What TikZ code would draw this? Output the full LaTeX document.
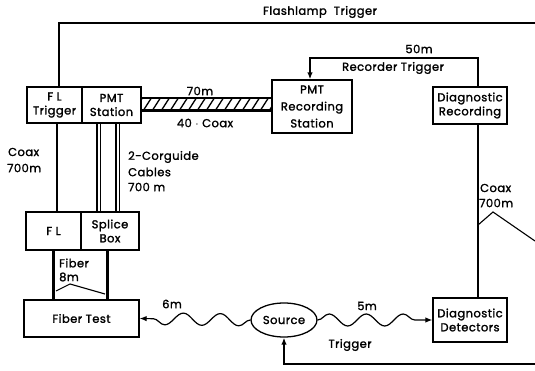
\documentclass[tikz,border=0pt]{standalone}
\usepackage{fontspec}
\setmainfont{Poppins}[LetterSpace=4,FakeBold=1.6]
\usetikzlibrary{arrows.meta,calc,decorations.pathmorphing,shapes.geometric}
\begin{document}
\begin{tikzpicture}[x=1pt,y=-1pt,
  every node/.style={font=\fontsize{11.5}{14}\selectfont},
  box/.style={draw,line width=1.3pt,inner sep=0pt,align=center},
  cable/.style={line width=2.4pt},
  thin/.style={line width=1.1pt},
  wire/.style={line width=1.5pt},
  tip/.style={-{Latex[length=7pt,width=5.5pt]}},
  wave/.style={line width=1.2pt,decorate,decoration={snake,amplitude=6pt,segment length=37pt,post length=5pt}},
  lbl/.style={inner sep=0pt,align=left,anchor=west}]
\useasboundingbox (0,0) rectangle (535,371);
% boxes
\node[box,minimum width=55pt,minimum height=36pt] (FLT) at (54.5,105) {F L\\Trigger};
\node[box,minimum width=59pt,minimum height=36pt] (PMTS) at (111.5,105) {PMT\\Station};
\node[box,minimum width=80pt,minimum height=53pt] (PMTR) at (312,106.5) {PMT\\[3pt]Recording\\[3pt]Station};
\node[box,minimum width=74pt,minimum height=37pt] (DR) at (470,105.5) {Diagnostic\\Recording};
\node[box,minimum width=55pt,minimum height=38pt] (FL) at (53.5,231) {F L};
\node[box,minimum width=58pt,minimum height=38pt] (SB) at (110,231) {Splice\\Box};
\node[box,minimum width=115pt,minimum height=37pt] (FT) at (81.5,318.5) {Fiber Test};
\node[box,ellipse,minimum width=66pt,minimum height=34pt] (SRC) at (284,320) {Source};
\node[box,minimum width=74pt,minimum height=44pt] (DD) at (470,320) {Diagnostic\\Detectors};
% free ends and x positions
\coordinate (flashend) at (535,23);
\coordinate (trigend) at (535,364);
\coordinate (xfl) at (59,0);
\coordinate (xco) at (57,0);
\coordinate (xa1) at (97,0);
\coordinate (xa2) at (100.5,0);
\coordinate (xb1) at (116,0);
\coordinate (xb2) at (119.5,0);
\coordinate (xf1) at (53,0);
\coordinate (xf2) at (107,0);
\coordinate (xdr) at (478,0);
\coordinate (xrt) at (310,0);
\coordinate (yrt) at (0,58);
% flashlamp trigger
\draw[wire] (FLT.north -| xfl) |- (flashend);
\node[inner sep=0pt] (flt) at (320,12) {Flashlamp\ \ Trigger};
% coax left
\draw[cable] (FLT.south -| xco) -- (FL.north -| xco);
\node[lbl] (coaxl) at (8,152) {Coax};
\node[lbl] (coaxl2) at (7,168) {700m};
% corguide cables
\draw[cable] (PMTS.south -| xa1) -- (SB.north -| xa1);
\draw[thin] (PMTS.south -| xa2) -- (SB.north -| xa2);
\draw[cable] (PMTS.south -| xb1) -- (SB.north -| xb1);
\draw[thin] (PMTS.south -| xb2) -- (SB.north -| xb2);
\node[lbl] (corg) at (128,157) {2-Corguide};
\node[lbl] (corg2) at (128,172) {Cables};
\node[lbl] (corg3) at (128,187) {700 m};
% hatched coax bundle
\begin{scope}
\clip ($(PMTS.east)+(0,-7)$) rectangle ($(PMTR.west |- PMTS.east)+(0,5)$);
\foreach \i in {134,143,...,280} \draw[line width=1.3pt] (\i,111) -- (\i+9,97);
\end{scope}
\draw[thin] ($(PMTS.east)+(0,-7)$) -- ($(PMTR.west |- PMTS.east)+(0,-7)$);
\draw[line width=2.6pt] ($(PMTS.east)+(0,5.5)$) -- ($(PMTR.west |- PMTS.east)+(0,5.5)$);
\node[inner sep=0pt] (l70) at (200,91) {70m};
\node[inner sep=0pt] (l40) at (205,123) {40 $\cdot$ Coax};
% recorder trigger
\draw[wire,tip] (DR.north -| xdr) |- (yrt -| xrt) -- (PMTR.north -| xrt);
\node[inner sep=0pt] (l50) at (419,49) {50m};
\node[inner sep=0pt] (lrt) at (393,68) {Recorder Trigger};
% coax right
\draw[line width=2pt] (DR.south -| xdr) -- (DD.north -| xdr);
\node[lbl] (coaxr) at (480,188) {Coax};
\node[lbl] (coaxr2) at (479,203) {700m};
\coordinate (ldr1) at (478,225);
\coordinate (ldr2) at (493,212);
\coordinate (ldr3) at (535,241);
\draw[thin] (ldr1) -- (ldr2) -- (ldr3);
% fibers
\draw[line width=3pt] (FL.south -| xf1) -- (FT.north -| xf1);
\draw[line width=3pt] (SB.south -| xf2) -- (FT.north -| xf2);
\node[lbl] (fib) at (59,263) {Fiber};
\node[lbl] (fib2) at (59,277) {8m};
\coordinate (lf1) at (56,291);
\coordinate (lf2) at (70,284);
\coordinate (lf3) at (105,294);
\draw[thin] (lf1) -- (lf2) -- (lf3);
% waves
\draw[wave,tip] (SRC.west) -- (FT.east);
\draw[wave,tip] (SRC.east) -- (DD.west);
\node[inner sep=0pt] (l6) at (172,304) {6m};
\node[inner sep=0pt] (l5) at (367,306) {5m};
% trigger
\draw[wire,tip] (trigend) -| (SRC.south);
\node[inner sep=0pt] (ltr) at (350,345) {Trigger};
\end{tikzpicture}
\end{document}
